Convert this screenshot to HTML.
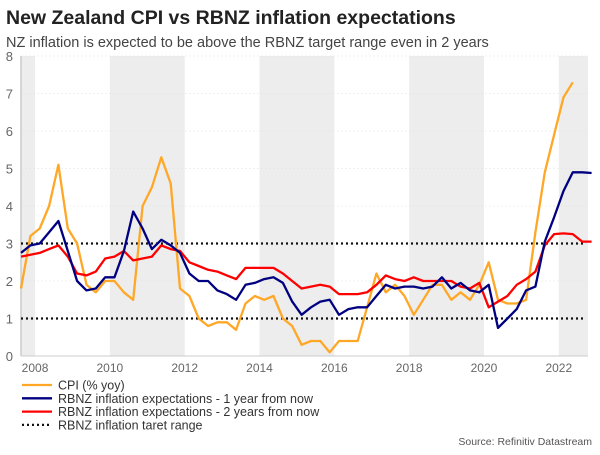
<!DOCTYPE html>
<html><head><meta charset="utf-8">
<style>
body{margin:0;width:600px;height:450px;background:#fff;font-family:"Liberation Sans",sans-serif;overflow:hidden}
</style></head><body>
<svg width="600" height="450" id="svg">
<text x="6" y="24" font-size="19.5" font-weight="bold" fill="#222">New Zealand CPI vs RBNZ inflation expectations</text>
<text x="6" y="47" font-size="14.5" fill="#444">NZ inflation is expected to be above the RBNZ target range even in 2 years</text>
<g id="bands"></g><g id="grid"></g><g id="axes"></g><g id="series"></g>
<g id="legend"></g>
<text x="592" y="445" font-size="10.5" fill="#555" text-anchor="end">Source: Refinitiv Datastream</text>
</svg>
<script>
const yTicks=[0,1,2,3,4,5,6,7,8];
const xTicks=[2008,2010,2012,2014,2016,2018,2020,2022];
const startYear=2007.625;
const cpi=[1.8,3.2,3.4,4.0,5.1,3.4,3.0,1.9,1.7,2.0,2.0,1.7,1.5,4.0,4.5,5.3,4.6,1.8,1.6,1.0,0.8,0.9,0.9,0.7,1.4,1.6,1.5,1.6,1.0,0.8,0.3,0.4,0.4,0.1,0.4,0.4,0.4,1.3,2.2,1.7,1.9,1.6,1.1,1.5,1.9,1.9,1.5,1.7,1.5,1.9,2.5,1.5,1.4,1.4,1.5,3.3,4.9,5.9,6.9,7.3];
const exp1=[2.75,2.95,3.0,3.3,3.6,2.8,2.0,1.75,1.8,2.1,2.1,2.8,3.85,3.4,2.85,3.1,2.95,2.75,2.2,2.0,2.0,1.75,1.65,1.5,1.9,1.95,2.05,2.1,1.95,1.45,1.1,1.3,1.45,1.5,1.1,1.25,1.3,1.3,1.6,1.9,1.8,1.85,1.85,1.8,1.85,2.1,1.8,1.95,1.75,1.7,1.9,0.75,1.0,1.25,1.75,1.85,3.05,3.7,4.4,4.9,4.9,4.88];
const exp2=[2.65,2.7,2.75,2.85,2.95,2.65,2.2,2.15,2.25,2.6,2.65,2.8,2.55,2.6,2.65,2.95,2.85,2.8,2.5,2.4,2.3,2.25,2.15,2.05,2.35,2.35,2.35,2.35,2.2,2.0,1.8,1.85,1.9,1.85,1.65,1.65,1.65,1.7,1.9,2.15,2.05,2.0,2.1,2.0,2.0,2.0,2.0,1.85,1.8,1.95,1.3,1.45,1.6,1.9,2.05,2.25,2.95,3.25,3.27,3.25,3.05,3.05];
const targetRange=[1,3];
const bandYears=[[2007.625,2008],[2010,2012],[2014,2016],[2018,2020],[2022,2022.78]];
const X0=21,X1=588,Y0=356,Y1=56,T0=2007.625,T1=2022.78;
const xs=t=>X0+(t-T0)/(T1-T0)*(X1-X0);
const ys=v=>Y0-v/8*(Y0-Y1);
const NS='http://www.w3.org/2000/svg';
function mk(tag,attrs,parent,txt){const e=document.createElementNS(NS,tag);for(const k in attrs)e.setAttribute(k,attrs[k]);if(txt!==undefined)e.textContent=txt;document.getElementById(parent).appendChild(e);return e;}
bandYears.forEach(b=>{const e=mk('rect',{x:xs(b[0]),y:Y1,width:xs(b[1])-xs(b[0]),height:Y0-Y1,fill:'#ededed'},'bands');

});
yTicks.forEach(v=>{const l=mk('line',{x1:X0,x2:X1,y1:ys(v),y2:ys(v),stroke:'#e2e2e2','stroke-width':0.6,'stroke-dasharray':'2,2'},'grid');


const t=mk('text',{x:13,y:ys(v)+5,'font-size':13,fill:'#666','text-anchor':'end'},'axes',String(v));

});
xTicks.forEach(v=>{const t=mk('text',{x:xs(v),y:372,'font-size':12,fill:'#666','text-anchor':'middle'},'axes',String(v));

});
const ax=mk('line',{x1:X0,x2:X0,y1:Y1,y2:Y0,stroke:'#ccc','stroke-width':1.5},'axes');


const bx=mk('line',{x1:X0,x2:X1,y1:Y0,y2:Y0,stroke:'#ccc','stroke-width':1},'axes');


targetRange.forEach(v=>{const l=mk('line',{x1:X0,x2:584,y1:ys(v),y2:ys(v),stroke:'#111','stroke-width':2.2,'stroke-dasharray':'2,3'},'series');

});
function line(arr,col,name){const pts=arr.map((v,i)=>xs(T0+i*0.25).toFixed(1)+','+ys(v).toFixed(1)).join(' ');
const p=mk('polyline',{points:pts,fill:'none',stroke:col,'stroke-width':2.3,'stroke-linejoin':'round'},'series');

}
line(cpi,'#ffa726','cpi-line');
line(exp2,'#ff0000','expectations-2yr-line');
line(exp1,'#000080','expectations-1yr-line');
const leg=[['CPI (% yoy)','#ffa726',null],['RBNZ inflation expectations - 1 year from now','#000080',null],['RBNZ inflation expectations - 2 years from now','#ff0000',null],['RBNZ inflation taret range','#111','2,3']];
leg.forEach((d,i)=>{const y=385+i*13.3;
const l=mk('line',{x1:22,x2:52,y1:y,y2:y,stroke:d[1],'stroke-width':2.3},'legend');
if(d[2])l.setAttribute('stroke-dasharray',d[2]);


const t=mk('text',{x:58,y:y+4.5,'font-size':12.5,fill:'#333'},'legend',d[0]);

});
</script>
</body></html>
